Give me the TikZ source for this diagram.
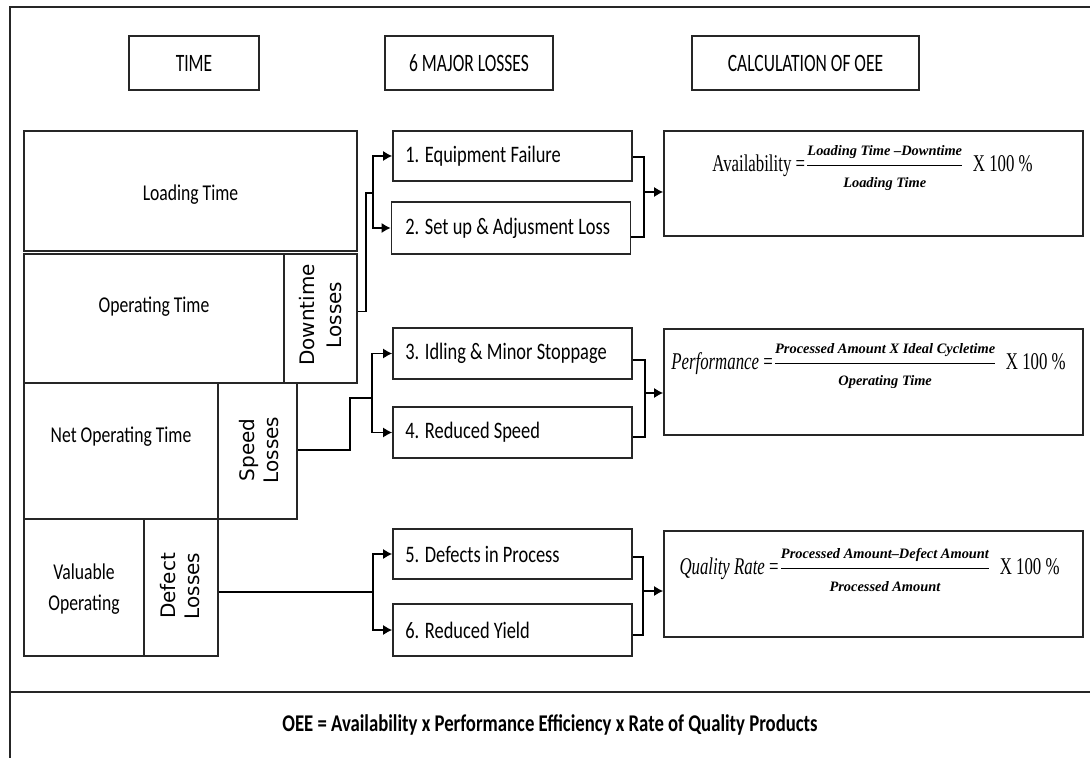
\documentclass[tikz,border=0pt]{standalone}
\usepackage{fontspec}
\setmainfont{Carlito}
\newfontfamily\fcal{Carlito}[FakeStretch=0.78]
\newfontfamily\fhead{Carlito}[FakeStretch=0.7]
\newfontfamily\fdv{DejaVu Sans}
\newfontfamily\ftnr{Liberation Serif}[FakeStretch=0.7]
\newfontfamily\ffr{Liberation Serif}
\usetikzlibrary{arrows.meta,calc}
\begin{document}
\begin{tikzpicture}[x=0.5pt,y=-0.5pt,
  hdr/.style={draw=black!85, line width=0.7pt, minimum height=27pt, inner sep=0pt, font=\fhead\fontsize{12.5}{14}\selectfont},
  blk/.style={draw=black!85, line width=0.6pt, inner sep=0pt},
  btxt/.style={inner sep=0pt, align=center, font=\fcal\fontsize{11.3}{15.5}\selectfont},
  rot/.style={rotate=90, inner sep=0pt, align=center, font=\fdv\fontsize{10}{12}\selectfont},
  loss/.style={draw=black!85, line width=0.9pt, minimum width=119.5pt, minimum height=25pt, inner sep=0pt},
  ltxt/.style={anchor=west, inner sep=0pt, font=\fcal\fontsize{11.8}{14}\selectfont},
  fbx/.style={draw=black!85, line width=0.9pt, minimum width=209.5pt, minimum height=53pt, inner sep=0pt},
  ftxt/.style={inner sep=0pt, font=\ftnr\fontsize{12}{14}\selectfont},
  wire/.style={line width=0.6pt},
  arr/.style={line width=0.6pt, -{Latex[length=4.5pt,width=5pt]}}]
\useasboundingbox (0,0) rectangle (1090,758);
\newcommand\fracf{\ffr\fontsize{7.2}{8}\selectfont\bfseries\itshape}

% frame
\draw[line width=0.8pt, black!85] (10,758) -- (10,7) -- (1090,7);
\draw[line width=1pt, black!85] (10,692) -- (1090,692);

% headers
\node[hdr, minimum width=65pt] (hTime) at (194,63) {TIME};
\node[hdr, minimum width=84pt] (hLoss) at (469,63) {6 MAJOR LOSSES};
\node[hdr, minimum width=113.5pt] (hCalc) at (805.5,63) {CALCULATION OF OEE};

% time blocks
\node[blk, minimum width=166.5pt, minimum height=60pt] (load) at (190.5,191) {};
\node[btxt] (loadT) at (190.5,195) {Loading Time};
\node[blk, minimum width=130pt, minimum height=64.5pt] (opt) at (154,318.5) {};
\node[btxt] (optT) at (154,307) {Operating Time};
\node[blk, minimum width=36.5pt, minimum height=64.5pt] (down) at (320.5,318.5) {};
\node[rot, font=\fdv\fontsize{10}{13.5}\selectfont] (downT) at (320.5,315) {Downtime\\Losses};
\node[blk, minimum width=97pt, minimum height=68pt] (net) at (121,451) {};
\node[btxt] (netT) at (121,437) {Net Operating Time};
\node[blk, minimum width=39.5pt, minimum height=68pt] (speed) at (257.5,451) {};
\node[rot] (speedT) at (259,450) {Speed\\Losses};
\node[blk, minimum width=60pt, minimum height=68.5pt] (val) at (84,587.5) {};
\node[btxt] (valT) at (84,589) {Valuable\\Operating};
\node[blk, minimum width=37pt, minimum height=68.5pt] (defect) at (181,587.5) {};
\node[rot] (defectT) at (180,586) {Defect\\Losses};

% losses
\node[loss] (l1) at (512.5,156) {};
\node[loss, minimum height=26pt] (l2) at (511,228) {};
\node[loss, minimum height=25.5pt] (l3) at (512.5,353.5) {};
\node[loss, minimum height=25.5pt] (l4) at (512.5,432.5) {};
\node[loss] (l5) at (512.5,554) {};
\node[loss, minimum height=26pt] (l6) at (512.5,630) {};
\node[ltxt] (l1t) at (405,156) {1. Equipment Failure};
\node[ltxt] (l2t) at (405,228) {2. Set up \& Adjusment Loss};
\node[ltxt] (l3t) at (405,353.5) {3. Idling \& Minor Stoppage};
\node[ltxt] (l4t) at (405,432.5) {4. Reduced Speed};
\node[ltxt] (l5t) at (405,554) {5. Defects in Process};
\node[ltxt] (l6t) at (405,630) {6. Reduced Yield};

% formula boxes
\node[fbx, minimum height=52.5pt] (fA) at (873.5,183.5) {};
\node[fbx] (fP) at (873.5,382) {};
\node[fbx] (fQ) at (873.5,584) {};
\node[ftxt] (fAt) at (872.5,168) {Availability =$\displaystyle\frac{\hbox{\fracf Loading Time –Downtime}}{\hbox{\fracf Loading Time}}$\ \ X 100 \%};
\node[ftxt] (fPt) at (868.5,366) {\itshape Performance\upshape\ =$\displaystyle\frac{\hbox{\fracf Processed Amount X Ideal Cycletime}}{\hbox{\fracf Operating Time}}$\ \ X 100 \%};
\node[ftxt] (fQt) at (869.5,570) {\itshape Quality Rate\upshape\ =$\displaystyle\frac{\hbox{\fracf Processed Amount–Defect Amount}}{\hbox{\fracf Processed Amount}}$\ \ X 100 \%};

% bottom text
\node[inner sep=0pt, font=\fcal\fontsize{12}{14}\selectfont\bfseries] (oee) at (550,725) {OEE = Availability x Performance Efficiency x Rate of Quality Products};

% group 1
\coordinate (j1) at (366,193);
\coordinate (b1) at (373,193);
\draw[wire] ($(down.east)+(0,-7)$) -| (j1) -- (b1);
\draw[arr] (b1) |- (l1.west);
\draw[arr] (b1) |- (l2.west);
\coordinate (m1) at (644,192);
\draw[wire] ($(l1.east)+(0,1)$) -| (m1);
\draw[wire] ($(l2.east)+(0,9)$) -| (m1);
\draw[arr] (m1) -- (m1 -| fA.west);

% group 2
\coordinate (j2) at (350,398);
\coordinate (b2) at (372,398);
\draw[wire] ($(speed.east)+(0,-1)$) -| (j2) -- (b2);
\draw[arr] (b2) |- (l3.west);
\draw[arr] (b2) |- (l4.west);
\coordinate (m2) at (645,393);
\draw[wire] ($(l3.east)+(0,6.5)$) -| (m2);
\draw[wire] ($(l4.east)+(0,4.5)$) -| (m2);
\draw[arr] (m2) -- (m2 -| fP.west);

% group 3
\coordinate (b3) at (373,592);
\draw[wire] (defect.east |- b3) -- (b3);
\draw[arr] (b3) |- (l5.west);
\draw[arr] (b3) |- (l6.west);
\coordinate (m3) at (643,591);
\draw[wire] ($(l5.east)+(0,3)$) -| (m3);
\draw[wire] ($(l6.east)+(0,5)$) -| (m3);
\draw[arr] (m3) -- (m3 -| fQ.west);
\end{tikzpicture}
\end{document}
